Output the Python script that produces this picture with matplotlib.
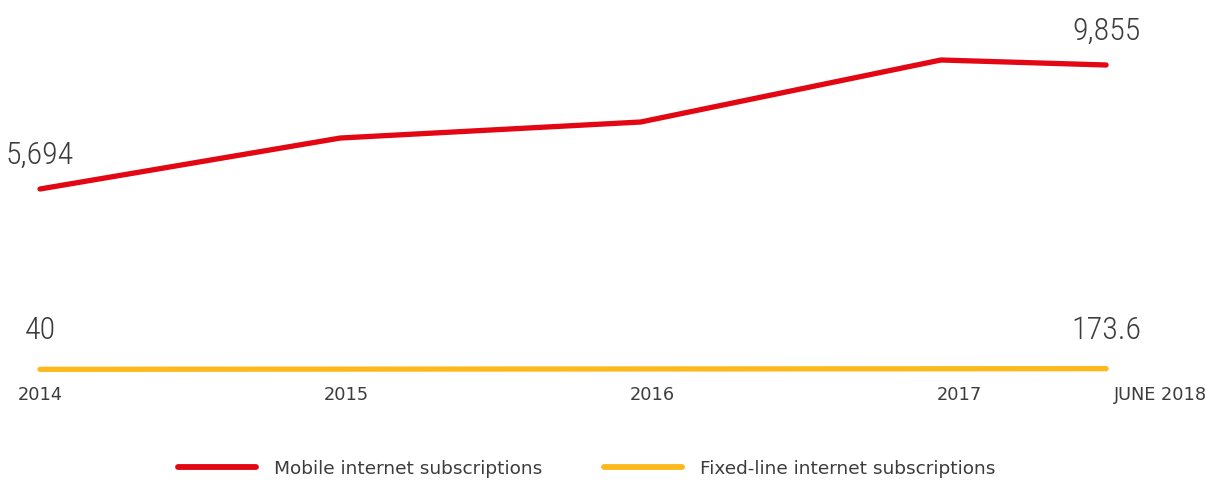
import matplotlib
matplotlib.use("Agg")
import matplotlib.pyplot as plt
from matplotlib.lines import Line2D
from matplotlib import font_manager

# ---- data ----
categories = ["2014", "2015", "2016", "2017", "JUNE 2018"]
mobile = [5694, 7405, 7942, 10023, 9855]
fixed_line = [40, 173.6]
fixed_categories = ["2014", "JUNE 2018"]
mobile_labels = {"2014": "5,694", "JUNE 2018": "9,855"}
fixed_labels = {"2014": "40", "JUNE 2018": "173.6"}
legend_labels = ["Mobile internet subscriptions", "Fixed-line internet subscriptions"]

RED = "#E30613"
YELLOW = "#FDB91B"
TEXT = "#3c3c3c"

names = sorted({f.name for f in font_manager.fontManager.ttflist})
cands = [n for n in names if ("Condensed" in n or "Narrow" in n or "Compressed" in n)]
num_stretch = "normal"
if cands:
    num_font = cands[0]
    for pref in ["Roboto Condensed", "Liberation Sans Narrow", "Open Sans Condensed"]:
        if pref in cands:
            num_font = pref
            break
else:
    num_font = "DejaVu Sans"
    num_stretch = "condensed"

# x positions of the categories (time axis; last point is mid-year)
xpos = {"2014": 0.0, "2015": 1.0, "2016": 2.0, "2017": 3.0, "JUNE 2018": 3.55}
tick_pos = [0.0, 1.02, 2.04, 3.06, 3.73]

fig = plt.figure(figsize=(12.19, 4.81), dpi=100)
ax = fig.add_axes([0, 0, 1, 1])
ax.set_xlim(-0.1332, 3.926)
ax.set_ylim(-4071, 12070)
ax.axis("off")

xs = [xpos[c] for c in categories]
ax.plot(xs, mobile, color=RED, lw=3.8, solid_capstyle="round", solid_joinstyle="round", zorder=3)

ax2 = ax.twinx()
ax2.set_position([0, 0, 1, 1])
ax2.set_ylim(-22093, 74107)
ax2.axis("off")
fx = [xpos[c] for c in fixed_categories]
ax2.plot(fx, fixed_line, color=YELLOW, lw=3.8, solid_capstyle="round", zorder=3)

num_kw = dict(ha="center", va="bottom", fontsize=23, color=TEXT,
              family=[num_font, "DejaVu Sans"], fontstretch=num_stretch, fontweight="light")
# value labels
for c, lab in mobile_labels.items():
    v = mobile[categories.index(c)]
    ax.annotate(lab, (xpos[c], v), xytext=(0, 20), textcoords="offset pixels", **num_kw)
for c, lab in fixed_labels.items():
    v = fixed_line[fixed_categories.index(c)]
    ax2.annotate(lab, (xpos[c], v), xytext=(0, 25), textcoords="offset pixels", **num_kw)

# x tick labels
for p, c in zip(tick_pos, categories):
    ax.text(p, 1 - 395 / 481, c, transform=ax.get_xaxis_transform(), ha="center", va="center",
            fontsize=12.8, color=TEXT)

handles = [Line2D([], [], color=RED, lw=4.2, solid_capstyle="round"),
           Line2D([], [], color=YELLOW, lw=4.2, solid_capstyle="round")]
fig.legend(handles, legend_labels, loc="center", bbox_to_anchor=(587 / 1219, 1 - 469 / 481),
           ncol=2, frameon=False, fontsize=13.3, handlelength=4.2, handletextpad=1.0,
           columnspacing=3.35, labelcolor=TEXT)

fig.savefig("out.png", dpi=100)
